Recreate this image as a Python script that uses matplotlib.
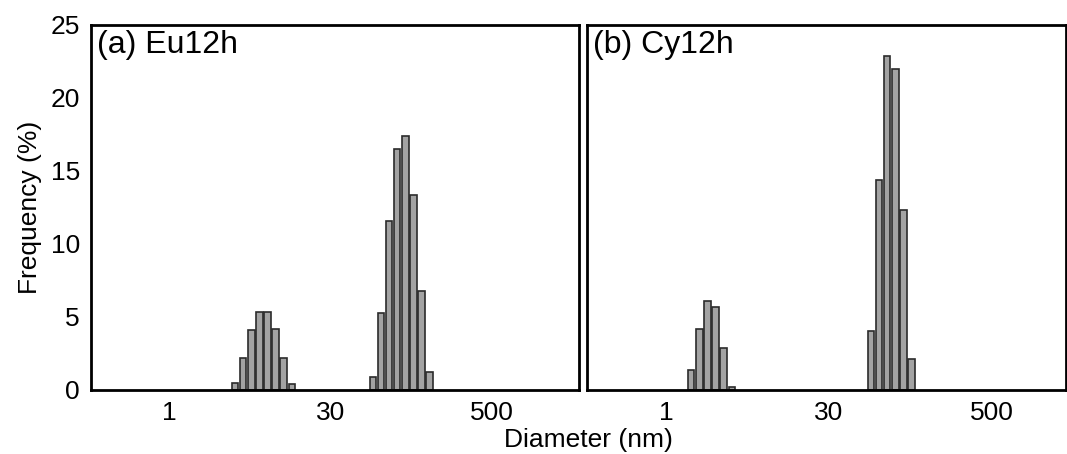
import matplotlib
matplotlib.use("Agg")
import matplotlib.pyplot as plt

plt.rcParams['font.family'] = ['Liberation Sans', 'DejaVu Sans']

# bin edges (nm) and frequencies (%)
eu_small_edges = [3.30, 3.85, 4.50, 5.26, 6.15, 7.18, 8.39, 9.80, 11.46]
eu_small_freq = [0.5, 2.2, 4.1, 5.35, 5.35, 4.15, 2.2, 0.4]
eu_large_edges = [46.7, 54.5, 63.7, 74.5, 87.0, 101.7, 118.8, 138.8, 162.2]
eu_large_freq = [0.9, 5.3, 11.6, 16.5, 17.4, 13.35, 6.8, 1.25]

cy_small_edges = [1.49, 1.74, 2.04, 2.38, 2.78, 3.25, 3.80]
cy_small_freq = [1.4, 4.2, 6.1, 5.65, 2.9, 0.18]
cy_large_edges = [46.0, 53.8, 62.8, 73.4, 85.8, 100.2, 117.1]
cy_large_freq = [4.05, 14.4, 22.9, 22.0, 12.3, 2.1]

tick_pos = [1, 500 ** 0.5, 500]
tick_labels = ['1', '30', '500']
y_ticks = [0, 5, 10, 15, 20, 25]

panels = [
    ('(a) Eu12h', [(eu_small_edges, eu_small_freq), (eu_large_edges, eu_large_freq)], (0.223, 2660)),
    ('(b) Cy12h', [(cy_small_edges, cy_small_freq), (cy_large_edges, cy_large_freq)], (0.221, 2060)),
]

BAR_FILL = 0.80  # fraction of each bin covered by its bar

fig = plt.figure(figsize=(10.67, 4.54), dpi=100)
ax_a = fig.add_axes([0.0853, 0.141, 0.4574, 0.804])
ax_b = fig.add_axes([0.5501, 0.141, 0.4490, 0.804])

for ax, (label, groups, xlim) in zip([ax_a, ax_b], panels):
    ax.set_xscale('log')
    for edges, freq in groups:
        # shrink each bar in log space so a thin gap shows between bars
        lefts, widths = [], []
        for l, r in zip(edges[:-1], edges[1:]):
            ratio = (r / l) ** ((1 - BAR_FILL) / 2)
            lefts.append(l * ratio)
            widths.append(r / ratio - l * ratio)
        ax.bar(lefts, freq, width=widths, align='edge',
               color='#a3a3a3', edgecolor='#2b2b2b', linewidth=1.2)
    ax.set_xlim(*xlim)
    ax.set_ylim(0, 25)
    ax.set_xticks(tick_pos)
    ax.set_xticklabels(tick_labels)
    ax.xaxis.set_minor_locator(matplotlib.ticker.NullLocator())
    ax.tick_params(axis='both', length=0, labelsize=19, pad=8)
    for s in ax.spines.values():
        s.set_linewidth(2)
    ax.text(0.012, 0.985, label, transform=ax.transAxes, fontsize=23,
            ha='left', va='top')

ax_a.set_yticks(y_ticks)
ax_b.set_yticks([])
ax_a.set_ylabel('Frequency (%)', fontsize=19, labelpad=6)

fig.text(588 / 1067, 0.005, 'Diameter (nm)', fontsize=19, ha='center', va='bottom')

fig.savefig('out.png', dpi=100)
